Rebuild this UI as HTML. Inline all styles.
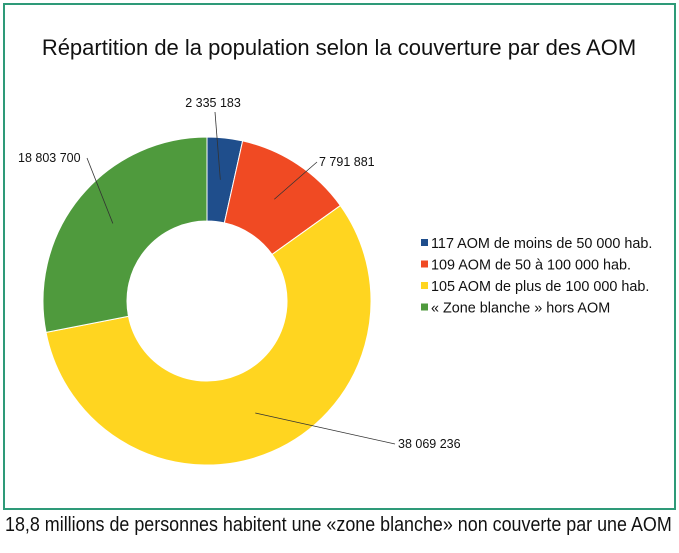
<!DOCTYPE html>
<html><head><meta charset="utf-8"><style>
body{margin:0;background:#fff;width:679px;height:553px;overflow:hidden;font-family:"Liberation Sans",sans-serif}
#frame{position:absolute;left:3px;top:3px;width:669px;height:503px;border:2px solid #2e9a78}
#cap{position:absolute;left:5px;top:514px;font-size:20px;color:#111;white-space:nowrap;transform-origin:0 0;transform:scaleX(0.895)}
</style></head><body>
<div id="frame"></div>
<svg id="c" width="679" height="553" style="position:absolute;left:0;top:0">
<text x="339" y="55" text-anchor="middle" font-size="22" fill="#111">Répartition de la population selon la couverture par des AOM</text>
</svg>
<div id="cap">18,8 millions de personnes habitent une «zone blanche» non couverte par une AOM</div>
<script>
const categories=["117 AOM de moins de 50 000 hab.","109 AOM de 50 à 100 000 hab.","105 AOM de plus de 100 000 hab.","« Zone blanche » hors AOM"];
const values=[2335183,7791881,38069236,18803700];
const valueLabels=["2 335 183","7 791 881","38 069 236","18 803 700"];
const colors=["#1f4e8c","#f04a23","#ffd520","#4f9a3d"];
const labelPos=[[213,107,"middle"],[319,166,"start"],[398,448,"start"],[18,162,"start"]];
const lineEnd=[[215,112],[317,162],[395,444],[87,158]];
const svg=document.getElementById('c');const NS="http://www.w3.org/2000/svg";
const cx=207,cy=301,R=164,r=80;
const total=values.reduce((a,b)=>a+b,0);
function pt(a,rad){return [cx+rad*Math.sin(a),cy-rad*Math.cos(a)];}
let a0=0;
values.forEach((v,i)=>{
 const a1=a0+v/total*2*Math.PI;const lg=(a1-a0)>Math.PI?1:0;
 const p1=pt(a0,R),p2=pt(a1,R),p3=pt(a1,r),p4=pt(a0,r);
 const p=document.createElementNS(NS,'path');
 p.setAttribute('d',`M${p1}A${R},${R} 0 ${lg} 1 ${p2}L${p3}A${r},${r} 0 ${lg} 0 ${p4}Z`);
 p.setAttribute('fill',colors[i]);p.setAttribute('stroke','#fff');p.setAttribute('stroke-width','1');
 
 
 svg.appendChild(p);
 const m=pt((a0+a1)/2,(R+r)/2);
 const l=document.createElementNS(NS,'line');
 l.setAttribute('x1',m[0]);l.setAttribute('y1',m[1]);l.setAttribute('x2',lineEnd[i][0]);l.setAttribute('y2',lineEnd[i][1]);
 l.setAttribute('stroke','#333');l.setAttribute('stroke-width','0.8');
 
 
 svg.appendChild(l);
 const t=document.createElementNS(NS,'text');
 t.setAttribute('x',labelPos[i][0]);t.setAttribute('y',labelPos[i][1]);t.setAttribute('text-anchor',labelPos[i][2]);
 t.setAttribute('font-size','12.5');t.setAttribute('fill','#111');t.textContent=valueLabels[i];
 
 
 svg.appendChild(t);
 a0=a1;
});
categories.forEach((c,i)=>{
 const y=243+i*21.5;
 const s=document.createElementNS(NS,'rect');
 s.setAttribute('x',421);s.setAttribute('y',y-4);s.setAttribute('width',7);s.setAttribute('height',7);s.setAttribute('fill',colors[i]);
 
 
 svg.appendChild(s);
 const t=document.createElementNS(NS,'text');
 t.setAttribute('x',431);t.setAttribute('y',y+5);t.setAttribute('font-size','14.4');t.setAttribute('fill','#111');t.textContent=c;
 
 
 svg.appendChild(t);
});
</script>
</body></html>
